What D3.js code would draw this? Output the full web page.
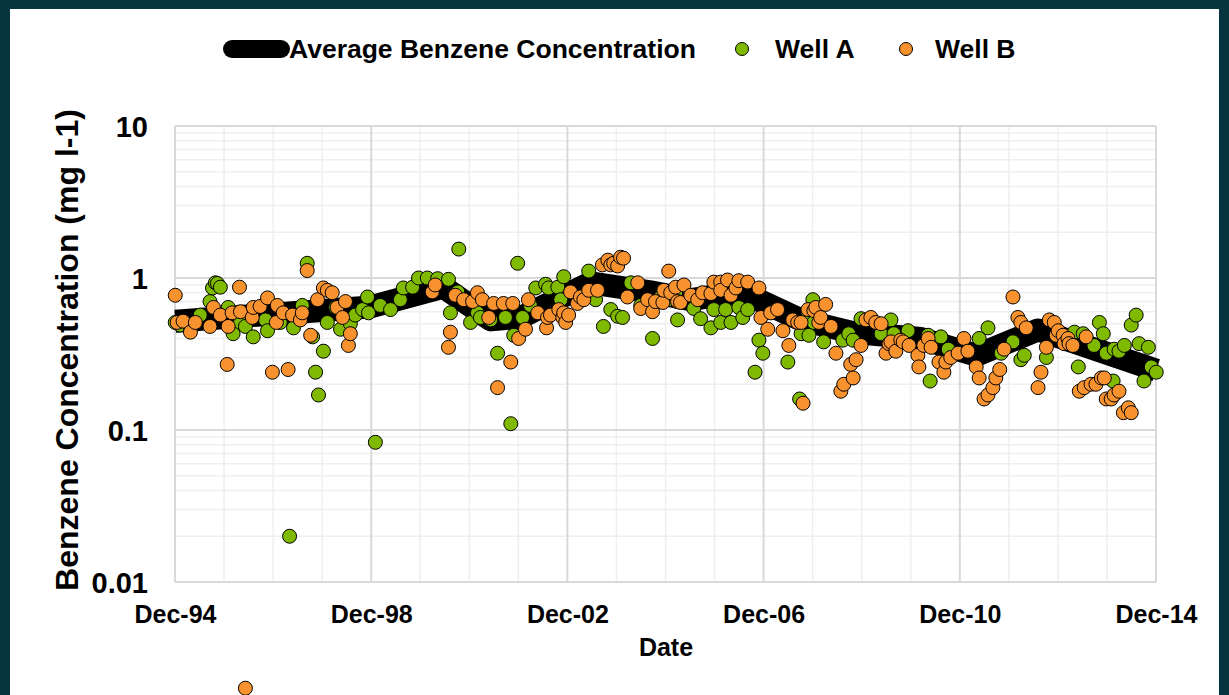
<!DOCTYPE html>
<html>
<head>
<meta charset="utf-8">
<script src="https://cdn.jsdelivr.net/npm/d3@7"></script>
<style>
  html, body { margin: 0; padding: 0; background: #06343f; }
  svg { display: block; }
  text { font-family: "Liberation Sans", Arial, sans-serif; font-weight: bold; fill: #000; }
</style>
</head>
<body>
<svg id="chart"></svg>
<script>
// tick labels / categories
var yTicks = [0.01, 0.1, 1, 10];
var yTickLabels = ["0.01", "0.1", "1", "10"];
var xTickYears = [1994, 1998, 2002, 2006, 2010, 2014];
var seriesNames = ["Average Benzene Concentration", "Well A", "Well B"];

// average benzene concentration (decimal year, mg/l)
var avgLine = [
  [1994.92, 0.52], [1998.90, 0.645], [2000.39, 0.87], [2001.35, 0.53],
  [2001.96, 0.55], [2003.39, 0.93], [2004.61, 0.81], [2005.43, 0.72],
  [2006.45, 0.81], [2007.68, 0.53], [2008.70, 0.44], [2010.12, 0.40],
  [2011.25, 0.31], [2012.51, 0.455], [2014.92, 0.248]
];

// well A samples
var wellA = [
  [1994.92, 0.51], [1995.02, 0.49], [1995.23, 0.46], [1995.43, 0.57], [1995.63, 0.70],
  [1995.68, 0.86], [1995.74, 0.93], [1995.78, 0.92], [1995.84, 0.87], [1996.00, 0.64],
  [1996.10, 0.43], [1996.25, 0.51], [1996.35, 0.48], [1996.51, 0.41], [1996.76, 0.53],
  [1996.80, 0.45], [1997.06, 0.51], [1997.25, 0.02], [1997.33, 0.47], [1997.51, 0.66],
  [1997.61, 1.25], [1997.72, 0.41], [1997.78, 0.24], [1997.84, 0.17], [1997.94, 0.33],
  [1998.02, 0.51], [1998.19, 0.64], [1998.29, 0.46], [1998.49, 0.50], [1998.59, 0.57],
  [1998.74, 0.62], [1998.84, 0.75], [1998.86, 0.59], [1999.00, 0.083], [1999.10, 0.66],
  [1999.31, 0.62], [1999.51, 0.72], [1999.57, 0.86], [1999.76, 0.87], [1999.88, 1.0],
  [2000.06, 1.0], [2000.27, 0.99], [2000.49, 0.98], [2000.53, 0.59], [2000.68, 0.81],
  [2000.70, 1.55], [2000.94, 0.51], [2001.08, 0.59], [2001.14, 0.55], [2001.35, 0.53],
  [2001.49, 0.32], [2001.65, 0.55], [2001.76, 0.11], [2001.82, 0.42], [2001.90, 1.25],
  [2002.00, 0.55], [2002.16, 0.66], [2002.27, 0.86], [2002.47, 0.91], [2002.53, 0.86],
  [2002.72, 0.87], [2002.78, 0.72], [2002.84, 1.02], [2003.35, 1.11], [2003.49, 0.72],
  [2003.65, 0.48], [2003.80, 0.62], [2003.94, 0.56], [2004.04, 0.55], [2004.21, 0.93],
  [2004.41, 0.66], [2004.65, 0.40], [2004.82, 0.75], [2004.96, 0.72], [2005.12, 0.80],
  [2005.16, 0.53], [2005.49, 0.63], [2005.63, 0.54], [2005.84, 0.47], [2005.90, 0.62],
  [2006.04, 0.51], [2006.14, 0.62], [2006.25, 0.51], [2006.41, 0.64], [2006.49, 0.55],
  [2006.59, 0.62], [2006.74, 0.24], [2006.82, 0.39], [2006.90, 0.32], [2007.41, 0.28],
  [2007.65, 0.16], [2007.68, 0.43], [2007.82, 0.59], [2007.84, 0.42], [2007.92, 0.72],
  [2007.94, 0.51], [2008.14, 0.38], [2008.53, 0.39], [2008.65, 0.43], [2008.74, 0.39],
  [2008.90, 0.54], [2009.31, 0.43], [2009.51, 0.53], [2009.57, 0.43], [2009.86, 0.45],
  [2010.27, 0.42], [2010.31, 0.21], [2010.53, 0.41], [2010.68, 0.34], [2011.31, 0.40],
  [2011.49, 0.47], [2011.76, 0.32], [2012.00, 0.38], [2012.16, 0.29], [2012.23, 0.31],
  [2012.68, 0.30], [2013.25, 0.44], [2013.33, 0.26], [2013.43, 0.43], [2013.65, 0.36],
  [2013.76, 0.51], [2013.84, 0.43], [2013.90, 0.32], [2014.04, 0.21], [2014.06, 0.34],
  [2014.16, 0.33], [2014.27, 0.36], [2014.41, 0.49], [2014.51, 0.57], [2014.57, 0.37],
  [2014.67, 0.21], [2014.76, 0.35], [2014.82, 0.26], [2014.92, 0.24]
];

// well B samples
var wellB = [
  [1994.92, 0.77], [1994.96, 0.51], [1995.08, 0.52], [1995.23, 0.44], [1995.33, 0.51],
  [1995.63, 0.48], [1995.70, 0.64], [1995.84, 0.57], [1995.98, 0.27], [1996.00, 0.48],
  [1996.08, 0.59], [1996.23, 0.87], [1996.25, 0.60], [1996.35, 0.002], [1996.49, 0.55],
  [1996.51, 0.64], [1996.65, 0.65], [1996.80, 0.74], [1996.90, 0.24], [1996.98, 0.51],
  [1997.00, 0.66], [1997.12, 0.59], [1997.22, 0.25], [1997.31, 0.57], [1997.47, 0.53],
  [1997.51, 0.59], [1997.61, 1.12], [1997.68, 0.42], [1997.82, 0.72], [1997.94, 0.86],
  [1998.02, 0.83], [1998.12, 0.80], [1998.22, 0.64], [1998.33, 0.55], [1998.39, 0.70],
  [1998.45, 0.36], [1998.49, 0.43], [2000.16, 0.81], [2000.22, 0.90], [2000.49, 0.35],
  [2000.53, 0.44], [2000.63, 0.77], [2000.80, 0.72], [2000.98, 0.70], [2001.08, 0.80],
  [2001.18, 0.72], [2001.31, 0.55], [2001.41, 0.68], [2001.49, 0.19], [2001.61, 0.68],
  [2001.76, 0.28], [2001.80, 0.68], [2001.92, 0.40], [2002.06, 0.46], [2002.12, 0.72],
  [2002.31, 0.59], [2002.49, 0.47], [2002.51, 0.55], [2002.57, 0.57], [2002.74, 0.62],
  [2002.82, 0.55], [2002.84, 0.59], [2002.88, 0.51], [2002.94, 0.57], [2002.98, 0.81],
  [2003.12, 0.68], [2003.18, 0.75], [2003.25, 0.72], [2003.35, 0.83], [2003.53, 0.83],
  [2003.63, 1.22], [2003.74, 1.31], [2003.80, 1.22], [2003.86, 1.25], [2003.94, 1.20],
  [2004.00, 1.37], [2004.06, 1.35], [2004.14, 0.75], [2004.35, 0.93], [2004.41, 0.63],
  [2004.55, 0.72], [2004.65, 0.60], [2004.71, 0.70], [2004.86, 0.69], [2004.88, 0.83],
  [2004.98, 1.11], [2005.02, 0.80], [2005.12, 0.87], [2005.16, 0.70], [2005.22, 0.69],
  [2005.29, 0.90], [2005.43, 0.77], [2005.57, 0.72], [2005.67, 0.80], [2005.84, 0.79],
  [2005.90, 0.94], [2006.04, 0.94], [2006.04, 0.83], [2006.18, 0.97], [2006.25, 0.77],
  [2006.35, 0.86], [2006.41, 0.96], [2006.59, 0.94], [2006.82, 0.86], [2006.86, 0.55],
  [2007.00, 0.46], [2007.06, 0.59], [2007.20, 0.62], [2007.31, 0.45], [2007.43, 0.36],
  [2007.51, 0.53], [2007.61, 0.51], [2007.68, 0.51], [2007.72, 0.15], [2007.82, 0.62],
  [2007.94, 0.61], [2007.98, 0.64], [2008.04, 0.51], [2008.08, 0.55], [2008.18, 0.67],
  [2008.29, 0.48], [2008.39, 0.32], [2008.49, 0.18], [2008.55, 0.20], [2008.69, 0.27],
  [2008.74, 0.22], [2008.80, 0.29], [2008.90, 0.36], [2009.00, 0.53], [2009.10, 0.55],
  [2009.20, 0.51], [2009.31, 0.50], [2009.41, 0.32], [2009.47, 0.37], [2009.51, 0.38],
  [2009.61, 0.33], [2009.71, 0.39], [2009.76, 0.38], [2009.88, 0.36], [2010.06, 0.31],
  [2010.08, 0.26], [2010.18, 0.36], [2010.27, 0.40], [2010.33, 0.35], [2010.49, 0.28],
  [2010.59, 0.24], [2010.63, 0.28], [2010.73, 0.30], [2010.88, 0.32], [2011.00, 0.40],
  [2011.08, 0.33], [2011.25, 0.26], [2011.31, 0.22], [2011.41, 0.16], [2011.49, 0.17],
  [2011.59, 0.19], [2011.65, 0.22], [2011.73, 0.25], [2011.82, 0.34], [2012.00, 0.75],
  [2012.10, 0.55], [2012.16, 0.51], [2012.27, 0.47], [2012.51, 0.19], [2012.57, 0.24],
  [2012.68, 0.35], [2012.74, 0.53], [2012.84, 0.51], [2012.88, 0.42], [2012.92, 0.45],
  [2013.02, 0.42], [2013.04, 0.37], [2013.12, 0.40], [2013.14, 0.37], [2013.22, 0.36],
  [2013.35, 0.18], [2013.45, 0.19], [2013.49, 0.41], [2013.59, 0.20], [2013.69, 0.20],
  [2013.80, 0.22], [2013.86, 0.22], [2013.90, 0.16], [2014.00, 0.16], [2014.06, 0.17],
  [2014.16, 0.18], [2014.25, 0.13], [2014.35, 0.14], [2014.41, 0.13]
];

var W = 1229, H = 695;
var margin = {top: 126, right: 73, bottom: 113, left: 175};
var width = W - margin.left - margin.right,
    height = H - margin.top - margin.bottom;

var colorA = "#7fba00", colorB = "#f7922e";

function toDate(y) {
  var yr = Math.floor(y);
  var a = new Date(yr, 0, 1), b = new Date(yr + 1, 0, 1);
  return new Date(a.getTime() + (y - yr) * (b - a));
}

var svg = d3.select("#chart").attr("width", W).attr("height", H);

svg.append("rect")
  .attr("x", 0).attr("y", 0).attr("width", W).attr("height", H)
  .attr("fill", "#06343f");
svg.append("rect")
  .attr("x", 10).attr("y", 9).attr("width", W - 20).attr("height", H)
  .attr("fill", "#ffffff");

var g = svg.append("g")
  .attr("transform", "translate(" + margin.left + "," + margin.top + ")");

var x = d3.scaleTime()
  .domain([new Date(1994, 11, 1), new Date(2014, 11, 1)])
  .range([0, width]);

var y = d3.scaleLog()
  .domain([0.01, 10])
  .range([height, 0]);

// minor gridlines
var minorY = [];
[0.01, 0.1, 1].forEach(function(dec) {
  for (var k = 2; k <= 9; k++) minorY.push(k * dec);
});
var minorX = d3.range(1995, 2014)
  .filter(function(yr) { return (yr - 1994) % 4 !== 0; })
  .map(function(yr) { return new Date(yr, 11, 1); });

g.selectAll(".minor-y").data(minorY).enter().append("line")
  .attr("x1", 0).attr("x2", width)
  .attr("y1", function(d) { return y(d); })
  .attr("y2", function(d) { return y(d); })
  .attr("stroke", "#efefef").attr("stroke-width", 1.5);

g.selectAll(".minor-x").data(minorX).enter().append("line")
  .attr("y1", 0).attr("y2", height)
  .attr("x1", function(d) { return x(d); })
  .attr("x2", function(d) { return x(d); })
  .attr("stroke", "#efefef").attr("stroke-width", 1.5);

// major gridlines
var xTicks = xTickYears.map(function(yr) { return new Date(yr, 11, 1); });

g.selectAll(".major-y").data(yTicks).enter().append("line")
  .attr("x1", 0).attr("x2", width)
  .attr("y1", function(d) { return y(d); })
  .attr("y2", function(d) { return y(d); })
  .attr("stroke", "#d9d9d9").attr("stroke-width", 2);

g.selectAll(".major-x").data(xTicks).enter().append("line")
  .attr("y1", 0).attr("y2", height)
  .attr("x1", function(d) { return x(d); })
  .attr("x2", function(d) { return x(d); })
  .attr("stroke", "#d9d9d9").attr("stroke-width", 2);

// axes (labels only)
var yAxis = g.append("g")
  .call(d3.axisLeft(y).tickValues(yTicks)
    .tickFormat(function(d, i) { return yTickLabels[i]; })
    .tickSize(0).tickPadding(27));
yAxis.select(".domain").remove();
yAxis.selectAll("text")
  .style("font-size", "29px").attr("dy", "0.36em");

var xAxis = g.append("g")
  .attr("transform", "translate(0," + height + ")")
  .call(d3.axisBottom(x).tickValues(xTicks)
    .tickFormat(d3.timeFormat("%b-%y"))
    .tickSize(0).tickPadding(23));
xAxis.select(".domain").remove();
xAxis.selectAll("text").style("font-size", "25px");

svg.append("text")
  .attr("x", 666).attr("y", 656)
  .attr("text-anchor", "middle")
  .style("font-size", "25px")
  .text("Date");

svg.append("text")
  .attr("transform", "translate(78,350) rotate(-90)")
  .attr("text-anchor", "middle")
  .style("font-size", "32px")
  .text("Benzene Concentration (mg l-1)");

// average line
var line = d3.line()
  .x(function(d) { return x(toDate(d[0])); })
  .y(function(d) { return y(d[1]); });

g.append("path")
  .datum(avgLine)
  .attr("d", line)
  .attr("fill", "none")
  .attr("stroke", "#000")
  .attr("stroke-width", 23)
  .attr("stroke-linejoin", "round");

// well points
function drawDots(data, color, cls) {
  g.selectAll("." + cls).data(data).enter().append("circle")
    .attr("class", cls)
    .attr("cx", function(d) { return x(toDate(d[0])); })
    .attr("cy", function(d) { return y(d[1]); })
    .attr("r", 7)
    .attr("fill", color)
    .attr("stroke", "#000")
    .attr("stroke-width", 1);
}
drawDots(wellA, colorA, "dotA");
drawDots(wellB, colorB, "dotB");

// legend
var leg = svg.append("g");
leg.append("line")
  .attr("x1", 232).attr("x2", 281).attr("y1", 49).attr("y2", 49)
  .attr("stroke", "#000").attr("stroke-width", 18).attr("stroke-linecap", "round");
leg.append("text").attr("x", 289).attr("y", 58).style("font-size", "26.5px").text(seriesNames[0]);

leg.append("circle").attr("cx", 742).attr("cy", 49).attr("r", 6.5)
  .attr("fill", colorA).attr("stroke", "#000");
leg.append("text").attr("x", 775).attr("y", 58).style("font-size", "26.5px").text(seriesNames[1]);

leg.append("circle").attr("cx", 906).attr("cy", 49).attr("r", 6.5)
  .attr("fill", colorB).attr("stroke", "#000");
leg.append("text").attr("x", 935).attr("y", 58).style("font-size", "26.5px").text(seriesNames[2]);
</script>
</body>
</html>
